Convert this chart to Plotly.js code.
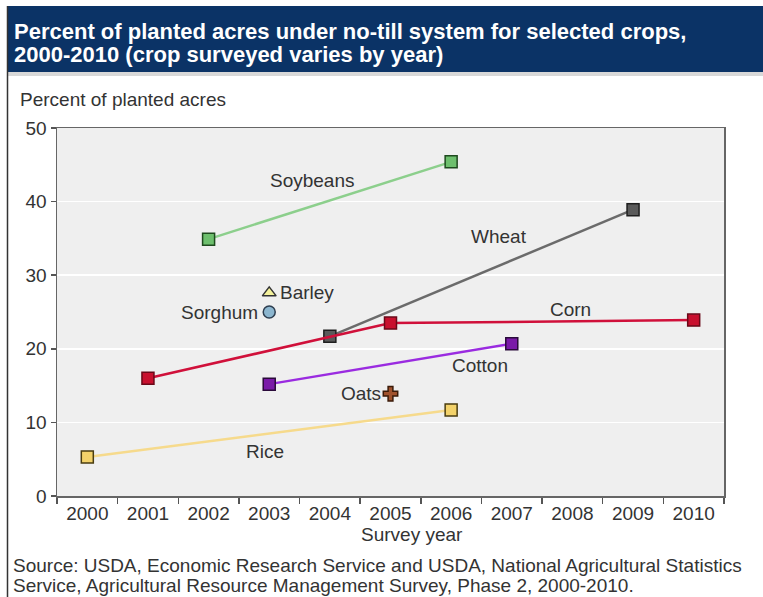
<!DOCTYPE html>
<html>
<head>
<meta charset="utf-8">
<script src="https://cdn.plot.ly/plotly-3.0.1.min.js"></script>
<style>html,body{margin:0;padding:0;background:#fff;}#chart{width:763px;height:597px;}</style>
</head>
<body>
<div id="chart"></div>
<script>
// ---- data ----
const years = ['2000','2001','2002','2003','2004','2005','2006','2007','2008','2009','2010'];
const soyYears = ['2002','2006'];
const soyValues = [34.9, 45.4];
const wheatYears = ['2004','2009'];
const wheatValues = [21.7, 38.9];
const cornYears = ['2001','2005','2010'];
const cornValues = [16.0, 23.5, 23.9];
const cottonYears = ['2003','2007'];
const cottonValues = [15.2, 20.7];
const riceYears = ['2000','2006'];
const riceValues = [5.3, 11.7];
const barleyYears = ['2003'];
const barleyValues = [27.6];
const sorghumYears = ['2003'];
const sorghumValues = [25.0];
const oatsYears = ['2005'];
const oatsValues = [13.9];
const yTicks = [0, 10, 20, 30, 40, 50];

const FONT = 'Liberation Sans, Arial, sans-serif';
const TXT = '#333333';
const FS = 19;

function lineTrace(x, y, lineColor, fill, border) {
  return {
    x: x, y: y, type: 'scatter', mode: 'lines+markers',
    line: {color: lineColor, width: 2.5},
    marker: {symbol: 'square', size: 12, color: fill, line: {color: border, width: 1.5}},
    hoverinfo: 'x+y', showlegend: false, cliponaxis: false
  };
}
function pointTrace(x, y, symbol, fill, border, size) {
  return {
    x: x, y: y, type: 'scatter', mode: 'markers',
    marker: {symbol: symbol, size: size, color: fill, line: {color: border, width: 1.5}},
    showlegend: false, cliponaxis: false
  };
}

const traces = [
  lineTrace(riceYears, riceValues, '#f6da8c', '#f3d26a', '#4a3d10'),
  lineTrace(cottonYears, cottonValues, '#9a2be0', '#7a1aa8', '#2a0a3a'),
  lineTrace(wheatYears, wheatValues, '#6b6b6b', '#5a5a5a', '#1e1e1e'),
  lineTrace(cornYears, cornValues, '#d0103a', '#c8102e', '#6a0818'),
  lineTrace(soyYears, soyValues, '#8ccf8c', '#6dbf6d', '#1e4a1e'),
  pointTrace(barleyYears, barleyValues, 'triangle-up', '#f4f29c', '#333333', 12),
  pointTrace(sorghumYears, sorghumValues, 'circle', '#8cb6cf', '#2e3e50', 12),
  pointTrace(oatsYears, oatsValues, 'cross', '#a0522d', '#3a1a08', 12)
];

const lab = {font: {family: FONT, size: FS, color: TXT}, showarrow: false, xref: 'x', yref: 'y'};
function L(o) { return Object.assign({}, lab, o); }
const idx = (yr) => years.indexOf(yr);

const annotations = [
  L({x: 3.71, y: 42.8, text: 'Soybeans'}),
  L({x: 6.79, y: 35.2, text: 'Wheat'}),
  L({x: 7.97, y: 25.4, text: 'Corn'}),
  L({x: 6.48, y: 17.7, text: 'Cotton'}),
  L({x: 2.93, y: 6.0, text: 'Rice'}),
  L({x: idx(oatsYears[0]), y: oatsValues[0], text: 'Oats', xanchor: 'right', xshift: -8}),
  L({x: idx(barleyYears[0]), y: barleyValues[0], text: 'Barley', xanchor: 'left', xshift: 9}),
  L({x: idx(sorghumYears[0]), y: sorghumValues[0], text: 'Sorghum', xanchor: 'right', xshift: -9}),
  // titles and notes
  {xref: 'paper', yref: 'paper', x: (12 - 57) / 667, y: (496 - 31) / 368, xanchor: 'left', yanchor: 'middle', showarrow: false,
   text: '<b>Percent of planted acres under no-till system for selected crops,</b>', font: {family: FONT, size: 22, color: '#ffffff'}},
  {xref: 'paper', yref: 'paper', x: (12 - 57) / 667, y: (496 - 54) / 368, xanchor: 'left', yanchor: 'middle', showarrow: false,
   text: '<b>2000-2010 (crop surveyed varies by year)</b>', font: {family: FONT, size: 22, color: '#ffffff'}},
  {xref: 'paper', yref: 'paper', x: (18 - 57) / 667, y: (496 - 99) / 368, xanchor: 'left', yanchor: 'middle', showarrow: false,
   text: 'Percent of planted acres', font: {family: FONT, size: FS, color: TXT}},
  {xref: 'paper', yref: 'paper', x: (412 - 57) / 667, y: (496 - 534) / 368, xanchor: 'center', yanchor: 'middle', showarrow: false,
   text: 'Survey year', font: {family: FONT, size: FS, color: TXT}},
  {xref: 'paper', yref: 'paper', x: (11 - 57) / 667, y: (496 - 565) / 368, xanchor: 'left', yanchor: 'middle', showarrow: false,
   text: 'Source: USDA, Economic Research Service and USDA, National Agricultural Statistics', font: {family: FONT, size: FS, color: TXT}},
  {xref: 'paper', yref: 'paper', x: (11 - 57) / 667, y: (496 - 585) / 368, xanchor: 'left', yanchor: 'middle', showarrow: false,
   text: 'Service, Agricultural Resource Management Survey, Phase 2, 2000-2010.', font: {family: FONT, size: FS, color: TXT}}
];

const shapes = [
  {type: 'rect', xref: 'paper', yref: 'paper', x0: (7 - 57) / 667, x1: (763 - 57) / 667, y0: (496 - 72) / 368, y1: (496 - 6) / 368,
   fillcolor: '#0b3366', line: {width: 0}, layer: 'below'},
  {type: 'rect', xref: 'paper', yref: 'paper', x0: (7 - 57) / 667, x1: (763 - 57) / 667, y0: (496 - 76) / 368, y1: (496 - 72) / 368,
   fillcolor: '#d8d8d8', line: {width: 0}, layer: 'below'},
  {type: 'line', xref: 'paper', yref: 'paper', x0: (7.5 - 57) / 667, x1: (7.5 - 57) / 667, y0: (496 - 597) / 368, y1: (496 - 6) / 368,
   line: {color: '#333333', width: 1.5}, layer: 'below'}
];

const layout = {
  width: 763, height: 597,
  margin: {l: 57, r: 39, t: 128, b: 101},
  paper_bgcolor: '#ffffff', plot_bgcolor: '#efefef',
  showlegend: false,
  font: {family: FONT, size: FS, color: TXT},
  xaxis: {
    type: 'category', categoryorder: 'array', categoryarray: years,
    range: [-0.5, 10.5], tickson: 'boundaries', ticks: 'outside', ticklen: 6, tickcolor: '#555555', tickwidth: 1.5,
    showgrid: false, showline: true, linecolor: '#666666', linewidth: 1.5, mirror: true,
    tickfont: {family: FONT, size: FS, color: TXT}, zeroline: false, fixedrange: true
  },
  yaxis: {
    range: [0, 50], tickvals: yTicks, ticks: 'outside', ticklen: 5, tickcolor: '#555555', tickwidth: 1.5,
    showgrid: true, gridcolor: '#ffffff', gridwidth: 1.5, showline: true, linecolor: '#666666', linewidth: 1.5, mirror: true,
    zeroline: false, tickfont: {family: FONT, size: FS, color: TXT}, fixedrange: true
  },
  annotations: annotations,
  shapes: shapes
};

Plotly.newPlot('chart', traces, layout, {displayModeBar: false, staticPlot: true});
</script>
</body>
</html>
